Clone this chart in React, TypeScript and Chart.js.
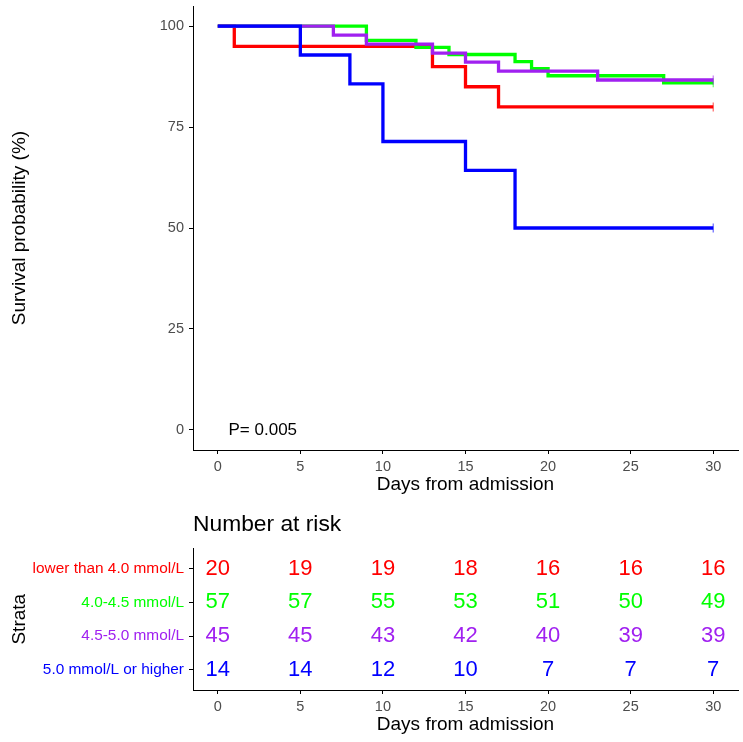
import React, { useEffect, useRef } from "react";
import { Chart, registerables } from "chart.js";

Chart.register(...registerables);

const FONT = "'Liberation Sans', Arial, Helvetica, sans-serif";

// Strata
const strata = ["lower than 4.0 mmol/L", "4.0-4.5 mmol/L", "4.5-5.0 mmol/L", "5.0 mmol/L or higher"];
const strataColors = ["#FF0000", "#00FF00", "#A020F0", "#0000FF"];

// Kaplan-Meier curves (days, survival %)
const redTimes = [0, 1, 13, 15, 17, 30];
const redSurv = [100, 95, 90, 85, 80, 80];
const greenTimes = [0, 9, 12, 14, 18, 19, 20, 27, 30];
const greenSurv = [100, 96.49, 94.74, 92.98, 91.23, 89.47, 87.72, 85.96, 85.96];
const purpleTimes = [0, 7, 9, 13, 15, 17, 23, 30];
const purpleSurv = [100, 97.78, 95.56, 93.33, 91.11, 88.89, 86.67, 86.67];
const blueTimes = [0, 5, 8, 10, 15, 18, 30];
const blueSurv = [100, 92.86, 85.71, 71.43, 64.29, 50, 50];

// Number at risk
const riskTimes = [0, 5, 10, 15, 20, 25, 30];
const riskRed = [20, 19, 19, 18, 16, 16, 16];
const riskGreen = [57, 57, 55, 53, 51, 50, 49];
const riskPurple = [45, 45, 43, 42, 40, 39, 39];
const riskBlue = [14, 14, 12, 10, 7, 7, 7];

// Axes
const xTicks = [0, 5, 10, 15, 20, 25, 30];
const yTicks = [0, 25, 50, 75, 100];
const pValueText = "P= 0.005";
const pValueX = 0.65;
const pValueY = 0;

const curveTimes = [redTimes, greenTimes, purpleTimes, blueTimes];
const curveSurv = [redSurv, greenSurv, purpleSurv, blueSurv];
const riskRows = [riskRed, riskGreen, riskPurple, riskBlue];

const zeroPad = (s: any) => {
  s.paddingLeft = 0;
  s.paddingRight = 0;
  s.paddingTop = 0;
  s.paddingBottom = 0;
};

const axisCommon = {
  grid: { drawOnChartArea: false, drawTicks: true, tickLength: 4, tickColor: "#000", tickWidth: 1 },
  border: { display: true, color: "#000", width: 1 },
};

export default function App() {
  const topRef = useRef<HTMLCanvasElement>(null);
  const botRef = useRef<HTMLCanvasElement>(null);

  useEffect(() => {
    Chart.defaults.font.family = FONT;

    const pPlugin = {
      id: "pval",
      afterDatasetsDraw(chart: any) {
        const { ctx, scales } = chart;
        ctx.save();
        ctx.font = `17px ${FONT}`;
        ctx.fillStyle = "#000";
        ctx.textAlign = "left";
        ctx.textBaseline = "middle";
        ctx.fillText(pValueText, scales.x.getPixelForValue(pValueX), scales.y.getPixelForValue(pValueY));
        ctx.restore();
      },
    };

    const top = new Chart(topRef.current!, {
      type: "line",
      data: {
        datasets: curveTimes.map((times, i) => ({
          label: strata[i],
          data: times.map((t, j) => ({ x: t, y: curveSurv[i][j] })),
          borderColor: strataColors[i],
          backgroundColor: strataColors[i],
          borderWidth: 3.3,
          stepped: true,
          fill: false,
          order: 4 - i,
          pointRadius: (ctx: any) => (ctx.dataIndex === times.length - 1 ? 4.5 : 0),
          pointHoverRadius: 0,
          pointStyle: "line",
          pointRotation: 90,
          pointBorderWidth: 1.2,
          pointBorderColor: strataColors[i] + "99",
          clip: false,
        })) as any,
      },
      options: {
        responsive: false,
        animation: false,
        events: [],
        layout: { padding: { top: 6, right: 5, left: 0, bottom: 0 }, autoPadding: false } as any,
        plugins: { legend: { display: false }, tooltip: { enabled: false } },
        scales: {
          x: {
            type: "linear",
            min: -1.5,
            max: 31.5,
            afterBuildTicks: (s: any) => {
              s.ticks = xTicks.map((v) => ({ value: v }));
            },
            afterFit: (s: any) => {
              s.height = 50;
              zeroPad(s);
            },
            ...axisCommon,
            ticks: { color: "#4D4D4D", font: { size: 14.5, family: FONT }, padding: 4, maxRotation: 0 },
            title: {
              display: true,
              text: "Days from admission",
              color: "#000",
              font: { size: 19, family: FONT },
              padding: { top: 0, bottom: 4 },
            },
          },
          y: {
            type: "linear",
            min: -5,
            max: 105,
            afterBuildTicks: (s: any) => {
              s.ticks = yTicks.map((v) => ({ value: v }));
            },
            afterFit: (s: any) => {
              s.width = 193;
              zeroPad(s);
            },
            ...axisCommon,
            ticks: { color: "#4D4D4D", font: { size: 14.5, family: FONT }, padding: 5 },
            title: {
              display: true,
              text: "Survival probability (%)",
              color: "#000",
              font: { size: 19, family: FONT },
              padding: { top: 8, bottom: 0 },
            },
          },
        },
      } as any,
      plugins: [pPlugin],
    });

    const riskPlugin = {
      id: "risklabels",
      afterDatasetsDraw(chart: any) {
        const { ctx } = chart;
        ctx.save();
        ctx.font = `22px ${FONT}`;
        ctx.textAlign = "center";
        ctx.textBaseline = "middle";
        chart.data.datasets.forEach((ds: any, i: number) => {
          const meta = chart.getDatasetMeta(i);
          ctx.fillStyle = strataColors[i];
          meta.data.forEach((el: any, j: number) => {
            ctx.fillText(String(ds.data[j].n), el.x, el.y);
          });
        });
        ctx.restore();
      },
    };

    const bot = new Chart(botRef.current!, {
      type: "scatter",
      data: {
        datasets: riskRows.map((row, i) => ({
          label: strata[i],
          data: row.map((n, j) => ({ x: riskTimes[j], y: i + 1, n })),
          pointRadius: 0,
          pointHoverRadius: 0,
          showLine: false,
        })) as any,
      },
      options: {
        responsive: false,
        animation: false,
        events: [],
        layout: { padding: { top: 0, right: 5, left: 0, bottom: 0 }, autoPadding: false } as any,
        plugins: {
          legend: { display: false },
          tooltip: { enabled: false },
          title: {
            display: true,
            text: "Number at risk",
            align: "start",
            fullSize: false,
            color: "#000",
            font: { size: 22.8, weight: "normal", family: FONT, lineHeight: 1.16 },
            padding: { top: 11, bottom: 11 },
          },
        },
        scales: {
          x: {
            type: "linear",
            min: -1.5,
            max: 31.5,
            afterBuildTicks: (s: any) => {
              s.ticks = xTicks.map((v) => ({ value: v }));
            },
            afterFit: (s: any) => {
              s.height = 52;
              zeroPad(s);
            },
            ...axisCommon,
            ticks: { color: "#4D4D4D", font: { size: 14.5, family: FONT }, padding: 4, maxRotation: 0 },
            title: {
              display: true,
              text: "Days from admission",
              color: "#000",
              font: { size: 19, family: FONT },
              padding: { top: 0, bottom: 6 },
            },
          },
          y: {
            type: "linear",
            reverse: true,
            min: 0.4,
            max: 4.6,
            afterBuildTicks: (s: any) => {
              s.ticks = strata.map((_, i) => ({ value: i + 1 }));
            },
            afterFit: (s: any) => {
              s.width = 193;
              zeroPad(s);
            },
            ...axisCommon,
            ticks: {
              callback: (v: any) => strata[Math.round(v) - 1] ?? "",
              color: (ctx: any) => strataColors[Math.round(ctx.tick.value) - 1] ?? "#000",
              font: { size: 15.4, family: FONT },
              padding: 5,
            },
            title: {
              display: true,
              text: "Strata",
              color: "#000",
              font: { size: 19, family: FONT },
              padding: { top: 8, bottom: 0 },
            },
          },
        },
      } as any,
      plugins: [riskPlugin],
    });

    return () => {
      top.destroy();
      bot.destroy();
    };
  }, []);

  return (
    <div style={{ position: "fixed", left: 0, top: 0, width: 743, height: 742, background: "#fff" }}>
      <canvas ref={topRef} width={743} height={500} style={{ display: "block", width: 743, height: 500 }} />
      <canvas ref={botRef} width={743} height={242} style={{ display: "block", width: 743, height: 242 }} />
    </div>
  );
}
